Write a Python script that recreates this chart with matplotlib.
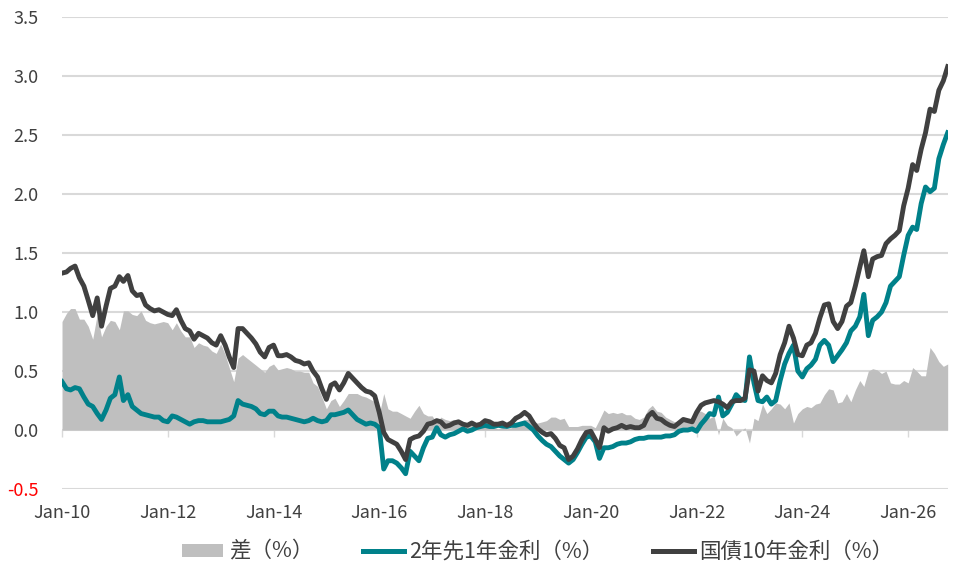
import numpy as np
import pandas as pd
import matplotlib
matplotlib.use("Agg")
import matplotlib.pyplot as plt
import matplotlib.dates as mdates
from matplotlib.patches import Patch
from matplotlib.lines import Line2D

plt.rcParams['font.family'] = ['Noto Sans CJK JP', 'DejaVu Sans']

# 月次 (2010/01 - 2026/10)
dates = pd.date_range("2010-01-01", "2026-10-01", freq="MS")

# 国債10年金利（%）
jgb10 = [
    1.33, 1.34, 1.37, 1.39, 1.29, 1.22, 1.10, 0.97, 1.12, 0.88, 1.05, 1.20,  # 2010
    1.22, 1.30, 1.26, 1.31, 1.18, 1.14, 1.15, 1.06, 1.03, 1.01, 1.02, 1.00,  # 2011
    0.98, 0.97, 1.02, 0.93, 0.86, 0.84, 0.77, 0.82, 0.80, 0.78, 0.74, 0.72,  # 2012
    0.80, 0.72, 0.62, 0.53, 0.86, 0.86, 0.82, 0.78, 0.73, 0.66, 0.62, 0.70,  # 2013
    0.72, 0.63, 0.63, 0.64, 0.62, 0.59, 0.58, 0.56, 0.57, 0.50, 0.45, 0.35,  # 2014
    0.26, 0.38, 0.40, 0.34, 0.40, 0.48, 0.44, 0.40, 0.36, 0.33, 0.32, 0.29,  # 2015
    0.15, -0.02, -0.08, -0.10, -0.12, -0.18, -0.25, -0.08, -0.06, -0.05, -0.01, 0.05,  # 2016
    0.06, 0.08, 0.07, 0.03, 0.04, 0.06, 0.07, 0.05, 0.04, 0.06, 0.04, 0.05,  # 2017
    0.08, 0.07, 0.05, 0.05, 0.06, 0.04, 0.06, 0.10, 0.12, 0.15, 0.12, 0.06,  # 2018
    0.01, -0.02, -0.04, -0.03, -0.07, -0.13, -0.15, -0.25, -0.22, -0.16, -0.08, -0.02,  # 2019
    -0.01, -0.08, -0.15, 0.02, -0.01, 0.01, 0.02, 0.04, 0.02, 0.03, 0.02, 0.02,  # 2020
    0.04, 0.12, 0.15, 0.10, 0.09, 0.06, 0.04, 0.03, 0.06, 0.09, 0.08, 0.07,  # 2021
    0.15, 0.21, 0.23, 0.24, 0.25, 0.24, 0.22, 0.19, 0.24, 0.25, 0.25, 0.27,  # 2022
    0.51, 0.50, 0.33, 0.46, 0.42, 0.40, 0.48, 0.64, 0.74, 0.88, 0.78, 0.64,  # 2023
    0.63, 0.72, 0.74, 0.82, 0.95, 1.06, 1.07, 0.92, 0.86, 0.92, 1.05, 1.08,  # 2024
    1.22, 1.38, 1.52, 1.30, 1.45, 1.47, 1.48, 1.58, 1.62, 1.65, 1.69, 1.90,  # 2025
    2.05, 2.25, 2.20, 2.38, 2.52, 2.72, 2.70, 2.88, 2.96, 3.08,  # 2026
]

# 2年先1年金利（%）
fwd2y1y = [
    0.41, 0.35, 0.34, 0.36, 0.35, 0.28, 0.22, 0.20, 0.14, 0.09, 0.17, 0.27,  # 2010
    0.30, 0.45, 0.25, 0.30, 0.20, 0.17, 0.14, 0.13, 0.12, 0.11, 0.11, 0.08,  # 2011
    0.07, 0.12, 0.11, 0.09, 0.07, 0.05, 0.07, 0.08, 0.08, 0.07, 0.07, 0.07,  # 2012
    0.07, 0.08, 0.09, 0.12, 0.25, 0.22, 0.21, 0.20, 0.18, 0.14, 0.13, 0.16,  # 2013
    0.16, 0.12, 0.11, 0.11, 0.10, 0.09, 0.08, 0.07, 0.08, 0.10, 0.08, 0.07,  # 2014
    0.08, 0.13, 0.13, 0.14, 0.15, 0.17, 0.13, 0.09, 0.07, 0.05, 0.06, 0.05,  # 2015
    0.02, -0.33, -0.26, -0.26, -0.28, -0.32, -0.37, -0.18, -0.22, -0.26, -0.15, -0.07,  # 2016
    -0.06, 0.02, -0.04, -0.06, -0.04, -0.03, -0.01, 0.01, -0.01, 0.00, 0.02, 0.03,  # 2017
    0.04, 0.03, 0.03, 0.04, 0.035, 0.03, 0.04, 0.04, 0.05, 0.06, 0.03, 0.00,  # 2018
    -0.05, -0.09, -0.12, -0.14, -0.18, -0.22, -0.25, -0.28, -0.25, -0.19, -0.12, -0.06,  # 2019
    -0.05, -0.10, -0.24, -0.15, -0.15, -0.14, -0.12, -0.11, -0.11, -0.10, -0.08, -0.07,  # 2020
    -0.07, -0.06, -0.06, -0.06, -0.06, -0.05, -0.05, -0.04, -0.01, 0.00, 0.00, 0.01,  # 2021
    -0.01, 0.05, 0.09, 0.14, 0.13, 0.28, 0.12, 0.15, 0.22, 0.30, 0.26, 0.25,  # 2022
    0.62, 0.40, 0.25, 0.24, 0.28, 0.22, 0.25, 0.42, 0.56, 0.65, 0.72, 0.50,  # 2023
    0.45, 0.52, 0.55, 0.60, 0.72, 0.76, 0.72, 0.58, 0.63, 0.68, 0.74, 0.84,  # 2024
    0.88, 0.96, 1.15, 0.80, 0.93, 0.96, 1.00, 1.08, 1.22, 1.26, 1.30, 1.48,  # 2025
    1.65, 1.72, 1.70, 1.92, 2.06, 2.02, 2.05, 2.30, 2.42, 2.52,  # 2026
]

jgb10 = np.array(jgb10)
fwd2y1y = np.array(fwd2y1y)
spread = jgb10 - fwd2y1y  # 差（%）

yticks = np.arange(-0.5, 3.51, 0.5)

fig = plt.figure(figsize=(9.69, 5.70), dpi=100)
ax = fig.add_axes([0.064, 0.142, 0.914, 0.828])

ax.fill_between(dates, 0, spread, color="#bfbfbf", linewidth=0, zorder=2)
ax.plot(dates, fwd2y1y, color="#00818a", linewidth=3.5, zorder=3)
ax.plot(dates, jgb10, color="#404040", linewidth=3.5, zorder=4)

ax.set_ylim(-0.5, 3.5)
ax.set_xlim(dates[0], dates[-1])
ax.set_yticks(yticks)
ax.set_yticklabels([f"{v:.1f}" for v in yticks])
ax.yaxis.grid(True, color="#d9d9d9", linewidth=1.5, zorder=0)
ax.set_axisbelow(True)

for s in ["top", "right", "left"]:
    ax.spines[s].set_visible(False)
ax.spines["bottom"].set_position(("data", 0))
ax.spines["bottom"].set_visible(False)

ax.xaxis.set_major_locator(mdates.YearLocator(2, month=1, day=1))
ax.xaxis.set_major_formatter(mdates.DateFormatter("%b-%y"))
ax.tick_params(axis="x", direction="out", length=5, width=1, color="#d9d9d9",
               pad=48, labelsize=13, labelcolor="#404040")
ax.tick_params(axis="y", length=0, pad=17, labelsize=13, labelcolor="#404040")
for lbl in ax.get_yticklabels():
    if lbl.get_text().startswith("-"):
        lbl.set_color("red")

handles = [
    Patch(facecolor="#bfbfbf", edgecolor="none"),
    Line2D([0], [0], color="#00818a", linewidth=3.6),
    Line2D([0], [0], color="#404040", linewidth=3.6),
]
labels = ["差（%）", "2年先1年金利（%）", "国債10年金利（%）"]
fig.legend(handles, labels, loc="center", bbox_to_anchor=(0.555, 0.032), ncol=3,
           frameon=False, fontsize=15.5, handlelength=1.9, handleheight=0.55,
           handletextpad=0.25, columnspacing=2.3, labelcolor="#404040")

fig.savefig("out.png", dpi=100)
